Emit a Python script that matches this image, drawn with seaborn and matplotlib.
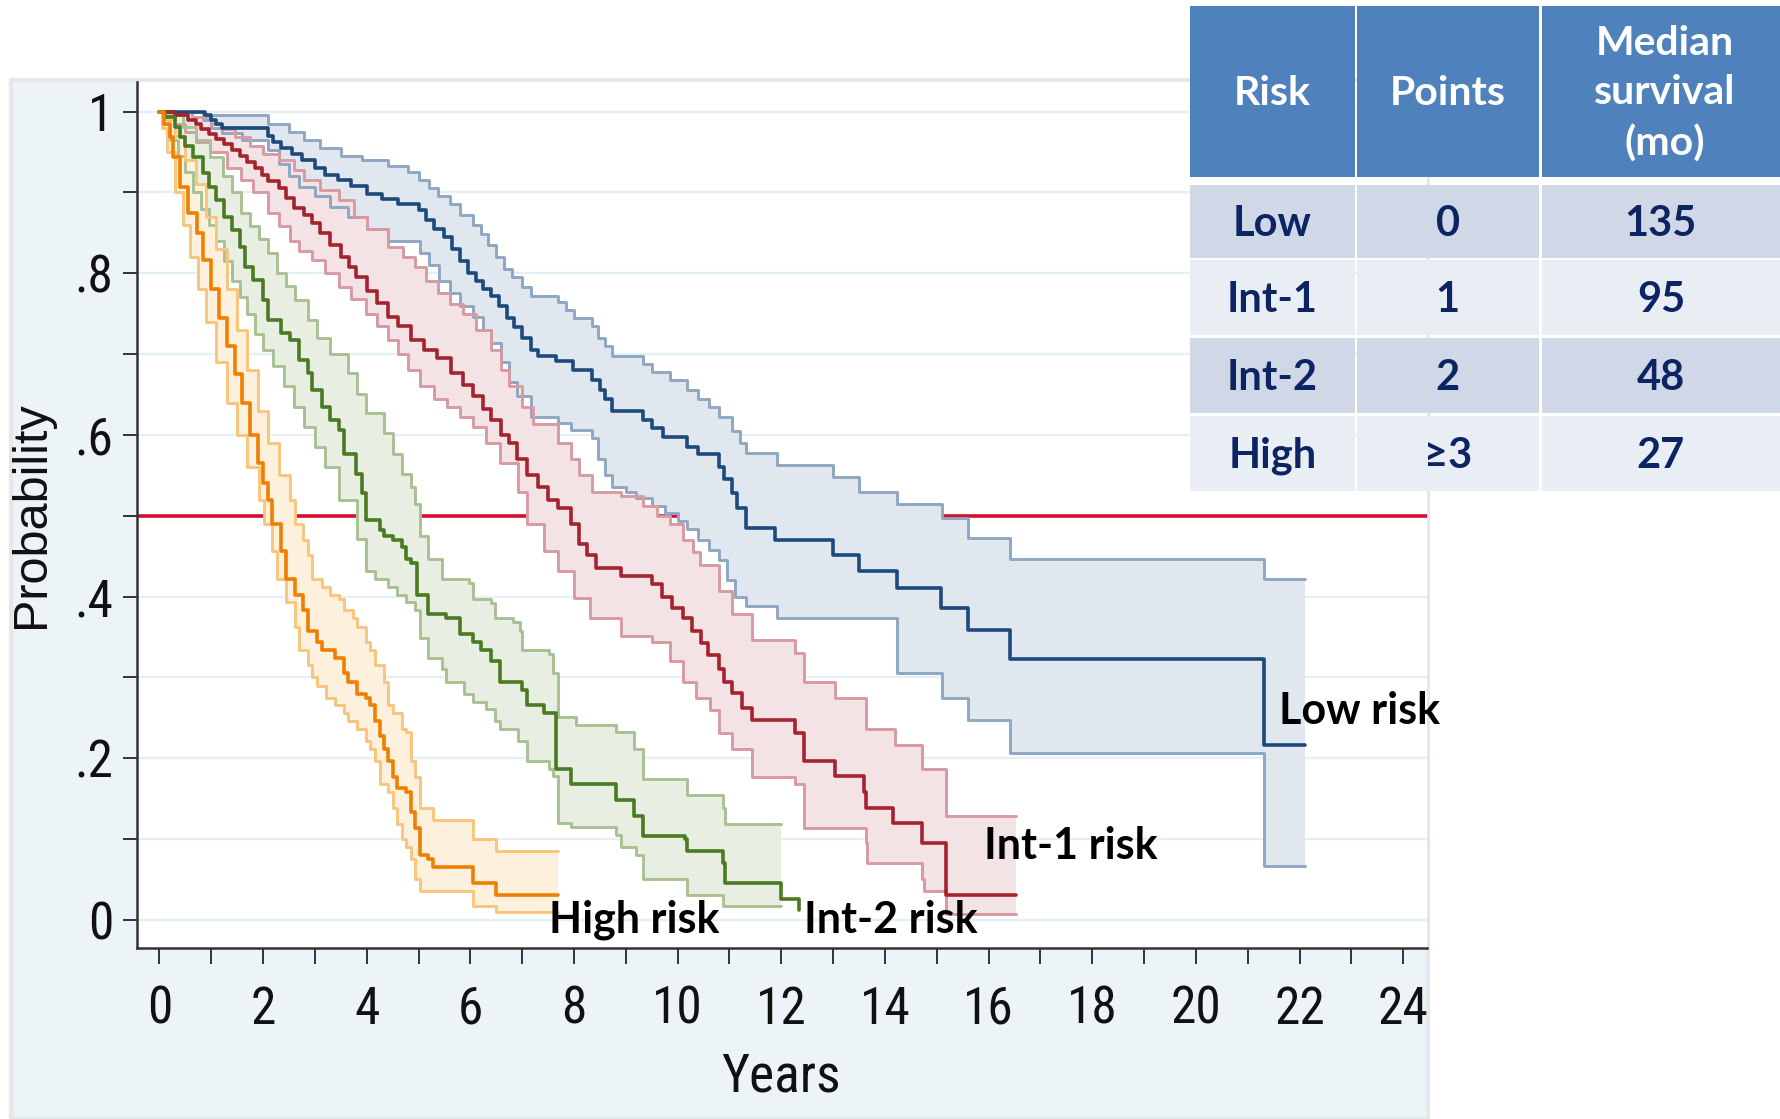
import numpy as np
import pandas as pd
import matplotlib
matplotlib.use("Agg")
import matplotlib.pyplot as plt
import seaborn as sns
from matplotlib import font_manager as fm
from matplotlib.patches import Rectangle
from matplotlib.ticker import MultipleLocator

# ---------------- data (time in years, survival probability) ----------------
low_main = [(0, 1.0), (0.88, 0.996), (1.0, 0.99), (1.1, 0.985), (1.2, 0.979), (2.1, 0.97), (2.2, 0.962),
            (2.35, 0.955), (2.55, 0.948), (2.75, 0.94), (3.0, 0.93), (3.2, 0.922), (3.45, 0.915), (3.7, 0.908),
            (4.0, 0.898), (4.3, 0.892), (4.6, 0.886), (5.0, 0.878), (5.15, 0.866), (5.3, 0.855), (5.5, 0.845),
            (5.65, 0.83), (5.8, 0.815), (5.95, 0.8), (6.1, 0.79), (6.25, 0.78), (6.4, 0.772), (6.55, 0.76),
            (6.7, 0.745), (6.85, 0.733), (7.0, 0.72), (7.17, 0.705), (7.3, 0.697), (7.65, 0.691), (7.99, 0.68),
            (8.34, 0.668), (8.5, 0.655), (8.6, 0.645), (8.73, 0.63), (9.33, 0.619), (9.5, 0.608), (9.71, 0.598),
            (10.19, 0.585), (10.4, 0.577), (10.79, 0.56), (10.9, 0.545), (11.05, 0.528), (11.15, 0.51),
            (11.31, 0.485), (11.87, 0.47), (12.99, 0.451), (13.5, 0.432), (14.24, 0.411), (15.08, 0.386),
            (15.6, 0.359), (16.42, 0.323), (21.32, 0.217)]
low_upper = [(0, 1.0), (0.85, 0.996), (2.1, 0.985), (2.5, 0.975), (2.8, 0.965), (3.1, 0.955), (3.5, 0.945),
             (3.9, 0.94), (4.42, 0.932), (4.8, 0.925), (5.0, 0.915), (5.2, 0.905), (5.37, 0.895), (5.6, 0.885),
             (5.8, 0.872), (6.06, 0.86), (6.2, 0.848), (6.35, 0.835), (6.5, 0.82), (6.65, 0.805), (6.8, 0.795),
             (7.0, 0.783), (7.17, 0.772), (7.69, 0.764), (7.85, 0.754), (8.0, 0.745), (8.34, 0.735), (8.47, 0.72),
             (8.6, 0.71), (8.73, 0.698), (9.33, 0.688), (9.5, 0.678), (9.85, 0.668), (10.19, 0.655), (10.4, 0.645),
             (10.6, 0.635), (10.79, 0.622), (11.05, 0.605), (11.2, 0.59), (11.31, 0.578), (11.91, 0.563),
             (12.99, 0.548), (13.5, 0.53), (14.24, 0.514), (15.1, 0.497), (15.6, 0.472), (16.42, 0.4465),
             (21.32, 0.422)]
low_lower = [(0, 1.0), (0.85, 0.99), (1.0, 0.98), (1.2, 0.973), (1.6, 0.965), (2.1, 0.952), (2.3, 0.935),
             (2.5, 0.92), (2.7, 0.907), (3.0, 0.895), (3.3, 0.882), (3.64, 0.87), (4.0, 0.855), (4.42, 0.84),
             (5.02, 0.825), (5.2, 0.81), (5.4, 0.79), (5.6, 0.775), (5.8, 0.76), (6.06, 0.746), (6.25, 0.73),
             (6.4, 0.714), (6.6, 0.69), (6.75, 0.665), (6.9, 0.648), (7.17, 0.622), (7.69, 0.615), (7.94, 0.606),
             (8.34, 0.596), (8.47, 0.57), (8.6, 0.55), (8.73, 0.536), (9.0, 0.53), (9.2, 0.522), (9.5, 0.512),
             (9.75, 0.503), (10.0, 0.493), (10.19, 0.484), (10.4, 0.47), (10.6, 0.458), (10.79, 0.445),
             (10.95, 0.42), (11.1, 0.4), (11.31, 0.388), (11.91, 0.373), (14.24, 0.305), (15.1, 0.275),
             (15.6, 0.248), (16.42, 0.207), (21.32, 0.067)]
low_end = 22.1

int1_main = [(0, 1.0), (0.3, 0.996), (0.55, 0.99), (0.7, 0.984), (0.8, 0.978), (0.95, 0.972), (1.1, 0.966),
             (1.25, 0.96), (1.4, 0.953), (1.55, 0.945), (1.7, 0.938), (1.85, 0.93), (1.98, 0.922), (2.1, 0.914),
             (2.3, 0.905), (2.45, 0.893), (2.6, 0.881), (2.8, 0.872), (2.95, 0.862), (3.1, 0.85), (3.3, 0.835),
             (3.5, 0.82), (3.65, 0.808), (3.8, 0.795), (4.0, 0.778), (4.2, 0.763), (4.42, 0.746), (4.6, 0.735),
             (4.85, 0.718), (5.1, 0.705), (5.35, 0.695), (5.62, 0.676), (5.85, 0.662), (6.06, 0.648),
             (6.25, 0.632), (6.4, 0.619), (6.6, 0.6), (6.74, 0.59), (6.9, 0.57), (7.09, 0.55), (7.3, 0.535),
             (7.5, 0.52), (7.7, 0.51), (7.94, 0.49), (8.1, 0.465), (8.25, 0.452), (8.42, 0.436), (8.9, 0.426),
             (9.5, 0.415), (9.7, 0.4), (9.89, 0.386), (10.1, 0.373), (10.27, 0.358), (10.45, 0.343),
             (10.58, 0.328), (10.79, 0.31), (10.9, 0.295), (11.05, 0.281), (11.25, 0.262), (11.44, 0.248),
             (12.26, 0.231), (12.43, 0.197), (13.03, 0.178), (13.59, 0.158), (13.63, 0.139), (14.15, 0.12),
             (14.71, 0.095), (15.18, 0.031)]
int1_upper = [(0, 1.0), (0.63, 0.993), (1.0, 0.985), (1.2, 0.978), (1.45, 0.968), (1.74, 0.957), (2.0, 0.948),
              (2.3, 0.94), (2.6, 0.928), (2.8, 0.915), (3.1, 0.903), (3.47, 0.89), (3.75, 0.87), (4.0, 0.855),
              (4.42, 0.833), (4.7, 0.82), (4.94, 0.808), (5.15, 0.79), (5.37, 0.775), (5.6, 0.762), (5.85, 0.75),
              (6.1, 0.73), (6.4, 0.705), (6.6, 0.68), (6.75, 0.66), (7.0, 0.634), (7.2, 0.614), (7.7, 0.59),
              (7.94, 0.57), (8.1, 0.55), (8.34, 0.53), (8.9, 0.524), (9.33, 0.512), (9.6, 0.5), (9.85, 0.49),
              (10.1, 0.47), (10.3, 0.455), (10.44, 0.439), (10.79, 0.407), (11.05, 0.378), (11.44, 0.346),
              (12.26, 0.33), (12.43, 0.295), (13.03, 0.275), (13.63, 0.236), (14.2, 0.216), (14.71, 0.187),
              (15.18, 0.129)]
int1_lower = [(0, 1.0), (0.3, 0.985), (0.5, 0.975), (0.7, 0.962), (0.97, 0.95), (1.3, 0.93), (1.58, 0.915),
              (1.8, 0.9), (2.09, 0.875), (2.3, 0.858), (2.52, 0.84), (2.7, 0.828), (2.95, 0.816), (3.2, 0.8),
              (3.47, 0.783), (3.7, 0.768), (3.99, 0.75), (4.2, 0.735), (4.42, 0.718), (4.6, 0.7), (4.8, 0.68),
              (5.02, 0.66), (5.3, 0.645), (5.55, 0.635), (5.8, 0.622), (6.06, 0.61), (6.3, 0.59), (6.57, 0.565),
              (6.92, 0.53), (7.09, 0.49), (7.43, 0.456), (7.69, 0.432), (8.0, 0.398), (8.3, 0.373), (8.9, 0.351),
              (9.5, 0.344), (9.85, 0.32), (10.1, 0.295), (10.36, 0.275), (10.62, 0.26), (10.79, 0.231),
              (11.05, 0.212), (11.44, 0.177), (12.26, 0.168), (12.43, 0.114), (13.63, 0.095), (13.65, 0.07),
              (14.71, 0.051), (14.75, 0.036), (15.18, 0.007)]
int1_end = 16.52

int2_main = [(0, 1.0), (0.1, 0.993), (0.3, 0.981), (0.4, 0.969), (0.5, 0.957), (0.65, 0.944), (0.85, 0.924),
             (0.95, 0.907), (1.1, 0.891), (1.25, 0.87), (1.4, 0.853), (1.55, 0.833), (1.66, 0.808), (1.8, 0.792),
             (2.0, 0.767), (2.09, 0.742), (2.35, 0.726), (2.52, 0.718), (2.7, 0.693), (2.87, 0.676), (2.95, 0.656),
             (3.13, 0.635), (3.3, 0.619), (3.47, 0.606), (3.56, 0.577), (3.8, 0.552), (3.9, 0.528), (3.99, 0.495),
             (4.25, 0.483), (4.33, 0.475), (4.5, 0.47), (4.68, 0.461), (4.75, 0.446), (4.85, 0.441),
             (4.98, 0.402), (5.19, 0.378), (5.54, 0.373), (5.8, 0.354), (6.06, 0.344), (6.2, 0.334), (6.4, 0.32),
             (6.57, 0.295), (7.0, 0.285), (7.09, 0.266), (7.43, 0.256), (7.65, 0.187), (7.95, 0.168),
             (8.81, 0.148), (9.16, 0.129), (9.33, 0.104), (10.15, 0.1), (10.19, 0.085), (10.88, 0.07),
             (10.92, 0.046), (12.0, 0.026), (12.34, 0.012)]
int2_upper = [(0, 1.0), (0.15, 0.996), (0.45, 0.981), (0.71, 0.965), (0.97, 0.944), (1.23, 0.92), (1.4, 0.9),
              (1.58, 0.875), (1.75, 0.858), (1.92, 0.842), (2.09, 0.825), (2.27, 0.8), (2.44, 0.784),
              (2.61, 0.767), (2.87, 0.742), (3.04, 0.72), (3.3, 0.7), (3.64, 0.676), (3.82, 0.651), (3.99, 0.627),
              (4.33, 0.602), (4.5, 0.577), (4.68, 0.552), (4.85, 0.535), (4.93, 0.515), (5.02, 0.475),
              (5.19, 0.446), (5.45, 0.422), (5.97, 0.417), (6.06, 0.397), (6.4, 0.392), (6.48, 0.373),
              (6.83, 0.368), (6.96, 0.358), (7.0, 0.334), (7.52, 0.329), (7.6, 0.305), (7.69, 0.251),
              (8.04, 0.241), (8.81, 0.232), (9.16, 0.212), (9.33, 0.175), (10.19, 0.155), (10.88, 0.138),
              (10.92, 0.119)]
int2_lower = [(0, 1.0), (0.05, 0.985), (0.2, 0.965), (0.35, 0.945), (0.5, 0.925), (0.65, 0.9), (0.8, 0.88),
              (0.95, 0.86), (1.1, 0.84), (1.25, 0.815), (1.4, 0.79), (1.55, 0.77), (1.7, 0.75), (1.85, 0.725),
              (2.0, 0.705), (2.2, 0.685), (2.4, 0.66), (2.6, 0.635), (2.8, 0.61), (3.0, 0.585), (3.2, 0.56),
              (3.47, 0.519), (3.82, 0.471), (3.99, 0.432), (4.16, 0.422), (4.42, 0.412), (4.59, 0.402),
              (4.76, 0.393), (4.93, 0.383), (5.02, 0.349), (5.19, 0.324), (5.45, 0.31), (5.54, 0.295),
              (5.88, 0.28), (6.06, 0.27), (6.31, 0.261), (6.48, 0.246), (6.57, 0.236), (6.92, 0.222),
              (7.09, 0.197), (7.52, 0.187), (7.6, 0.178), (7.69, 0.12), (7.95, 0.115), (8.81, 0.105),
              (8.9, 0.09), (9.2, 0.08), (9.33, 0.051), (10.19, 0.031), (10.88, 0.017)]
int2_end = 12.34
int2_ci_end = 12.0

high_main = [(0, 1.0), (0.08, 0.985), (0.2, 0.969), (0.27, 0.944), (0.4, 0.907), (0.56, 0.874), (0.72, 0.85),
             (0.84, 0.816), (1.0, 0.78), (1.15, 0.745), (1.3, 0.71), (1.45, 0.675), (1.6, 0.64), (1.75, 0.6),
             (1.9, 0.565), (2.0, 0.54), (2.09, 0.519), (2.18, 0.49), (2.35, 0.456), (2.44, 0.422), (2.61, 0.402),
             (2.78, 0.383), (2.87, 0.358), (3.04, 0.344), (3.13, 0.334), (3.39, 0.324), (3.56, 0.305),
             (3.64, 0.295), (3.82, 0.28), (3.99, 0.275), (4.07, 0.266), (4.16, 0.246), (4.25, 0.227),
             (4.33, 0.212), (4.42, 0.197), (4.5, 0.177), (4.59, 0.163), (4.76, 0.158), (4.85, 0.134),
             (4.93, 0.114), (5.02, 0.08), (5.19, 0.075), (5.28, 0.066), (6.06, 0.046), (6.49, 0.031)]
high_upper = [(0, 1.0), (0.15, 0.99), (0.3, 0.97), (0.5, 0.94), (0.7, 0.91), (0.9, 0.87), (1.1, 0.83),
              (1.3, 0.78), (1.5, 0.73), (1.7, 0.68), (1.9, 0.63), (2.1, 0.59), (2.3, 0.55), (2.52, 0.519),
              (2.61, 0.49), (2.78, 0.47), (2.87, 0.451), (2.95, 0.422), (3.13, 0.412), (3.3, 0.402),
              (3.47, 0.397), (3.56, 0.383), (3.73, 0.373), (3.82, 0.363), (3.99, 0.344), (4.07, 0.334),
              (4.16, 0.315), (4.33, 0.295), (4.42, 0.266), (4.5, 0.256), (4.68, 0.236), (4.76, 0.232),
              (4.85, 0.197), (4.93, 0.177), (5.02, 0.139), (5.28, 0.124), (6.06, 0.1), (6.49, 0.085)]
high_lower = [(0, 1.0), (0.05, 0.98), (0.15, 0.95), (0.3, 0.9), (0.45, 0.86), (0.6, 0.82), (0.75, 0.78),
              (0.9, 0.74), (1.1, 0.69), (1.3, 0.64), (1.5, 0.6), (1.7, 0.56), (1.92, 0.519), (2.01, 0.49),
              (2.18, 0.456), (2.27, 0.422), (2.44, 0.393), (2.61, 0.363), (2.7, 0.334), (2.87, 0.315),
              (2.95, 0.3), (3.04, 0.29), (3.21, 0.275), (3.39, 0.266), (3.56, 0.256), (3.64, 0.246),
              (3.82, 0.236), (3.99, 0.222), (4.07, 0.212), (4.16, 0.197), (4.25, 0.168), (4.42, 0.158),
              (4.5, 0.139), (4.59, 0.119), (4.68, 0.1), (4.76, 0.09), (4.85, 0.075), (4.93, 0.051),
              (5.02, 0.036), (6.06, 0.017), (6.49, 0.01)]
high_end = 7.69

reference_level = 0.5
group_labels = ["High risk", "Int-2 risk", "Int-1 risk", "Low risk"]
label_anchor = [(7.52, 0.0), (12.43, 0.0), (15.91, 0.091), (21.6, 0.2585)]

x_ticks = list(range(0, 25, 2))
y_ticks = [0, 0.2, 0.4, 0.6, 0.8, 1.0]
y_tick_labels = ["0", ".2", ".4", ".6", ".8", "1"]

table_header = ["Risk", "Points", "Median\nsurvival\n(mo)"]
table_risk = ["Low", "Int-1", "Int-2", "High"]
table_points = ["0", "1", "2", "\u22653"]
table_median = ["135", "95", "48", "27"]

# ---------------- style ----------------
W, H, DPI = 1780, 1119, 100
sns.set_theme(style="white")

available = {f.name for f in fm.fontManager.ttflist}
narrow_name = next((n for n in ["Liberation Sans Narrow", "Arial Narrow", "Roboto Condensed",
                                "Open Sans Condensed", "DejaVu Sans Condensed"] if n in available), None)
if narrow_name is not None:
    NARROW = [narrow_name, "Liberation Sans", "DejaVu Sans"]
    tick_size, xlab_size = 37, 38.5
else:
    NARROW = ["Liberation Sans", "DejaVu Sans"]
    tick_size, xlab_size = 35, 35
BOLD = ["Lato", "Open Sans", "DejaVu Sans"]
plt.rcParams["font.family"] = NARROW

groups = [
    # main, upper, lower, end, ci_end, main colour, ci colour, fill colour
    (low_main, low_upper, low_lower, low_end, low_end, "#1c4a7c", "#8ea7c2", "#e1e7ef"),
    (int1_main, int1_upper, int1_lower, int1_end, int1_end, "#a5222f", "#d89aa2", "#f4e3e5"),
    (int2_main, int2_upper, int2_lower, int2_end, int2_ci_end, "#4a7b22", "#a8c193", "#e8efe2"),
    (high_main, high_upper, high_lower, high_end, high_end, "#ef7f00", "#f8c57c", "#fdf0dc"),
]


def step_eval(pairs, grid):
    t = np.array([p[0] for p in pairs])
    s = np.array([p[1] for p in pairs])
    idx = np.searchsorted(t, grid, side="right") - 1
    return s[np.clip(idx, 0, len(s) - 1)]


def step_frame(pairs, end):
    t = [p[0] for p in pairs] + [end]
    s = [p[1] for p in pairs] + [pairs[-1][1]]
    return pd.DataFrame({"t": t, "s": s})


fig = plt.figure(figsize=(W / DPI, H / DPI), dpi=DPI, facecolor="white")

# graph region (light bluish)
fig.add_artist(Rectangle((11 / W, 0), (1428 - 11) / W, (H - 80) / H, transform=fig.transFigure,
                         facecolor="#edf4f7", edgecolor="#e4e8ea", lw=3, zorder=-10))

ax = fig.add_axes([137 / W, (H - 948) / H, (1427 - 137) / W, (948 - 82) / H])
ax.set_facecolor("white")

ax.axhline(reference_level, color="#d3112e", lw=2.6, zorder=1)

for main, up, lo, end, ci_end, c_main, c_ci, c_fill in groups:
    grid = np.unique(np.concatenate([[p[0] for p in up], [p[0] for p in lo], [ci_end]]))
    grid = grid[grid <= ci_end]
    ax.fill_between(grid, step_eval(lo, grid), step_eval(up, grid), step="post",
                    color=c_fill, lw=0, zorder=2)
    for band in (up, lo):
        sns.lineplot(data=step_frame(band, ci_end), x="t", y="s", drawstyle="steps-post",
                     estimator=None, sort=False, color=c_ci, linewidth=2.1, ax=ax, zorder=3)
for main, up, lo, end, ci_end, c_main, c_ci, c_fill in groups:
    sns.lineplot(data=step_frame(main, end), x="t", y="s", drawstyle="steps-post",
                 estimator=None, sort=False, color=c_main, linewidth=2.6, ax=ax, zorder=4)

for lab, (tx, ty) in zip(group_labels, label_anchor):
    ax.text(tx, ty, lab, ha="left", va="center", fontsize=31, fontweight="bold",
            family=BOLD, color="black", zorder=6)

ax.set_xlim(-0.432, 24.46)
ax.set_ylim(-0.0346, 1.0365)
ax.set_xticks(x_ticks)
ax.set_xticklabels([str(v) for v in x_ticks])
ax.set_yticks(y_ticks)
ax.set_yticklabels(y_tick_labels)
ax.xaxis.set_minor_locator(MultipleLocator(1))
ax.yaxis.set_minor_locator(MultipleLocator(0.1))
ax.set_axisbelow(True)
ax.yaxis.grid(True, which="both", color="#e3f0f5", lw=1.6, zorder=0)
ax.xaxis.grid(False)

ax.tick_params(axis="x", which="both", direction="out", length=11.5, width=1.4, color="#333333",
               labelsize=tick_size, pad=15, labelcolor="#111111", bottom=True)
ax.tick_params(axis="y", which="both", direction="out", length=10, width=1.4, color="#333333",
               labelsize=tick_size, pad=7, labelcolor="#111111", left=True)

for side in ("top", "right"):
    ax.spines[side].set_visible(False)
for side in ("left", "bottom"):
    ax.spines[side].set_color("#333333")
    ax.spines[side].set_linewidth(1.8)

ax.set_xlabel("Years", fontsize=xlab_size, color="#111111")
ax.xaxis.label.set_verticalalignment("center")
ax.xaxis.set_label_coords(0.4995, -(1077 - 948) / 866)
ax.set_ylabel("Probability", fontsize=35, color="#111111", family=["Liberation Sans", "DejaVu Sans"])
ax.yaxis.label.set_verticalalignment("center")
ax.yaxis.set_label_coords(-(137 - 32) / 1290, 0.5)

# ---------------- summary table (overlay) ----------------
tab = fig.add_axes([0, 0, 1, 1], zorder=10)
tab.set_xlim(0, W)
tab.set_ylim(H, 0)
tab.set_facecolor("none")
tab.axis("off")

col_edges = [(1190, 1355), (1357, 1538.5), (1541.7, 1780)]
header_span = (6, 177)
row_spans = [(185, 258), (260, 335), (338, 413), (416, 491)]
row_colors = ["#d0d8e8", "#e9edf4", "#d0d8e8", "#e9edf4"]
NAVY = "#0d2463"

for (x0, x1), txt in zip(col_edges, table_header):
    tab.add_patch(Rectangle((x0, header_span[0]), x1 - x0, header_span[1] - header_span[0],
                            facecolor="#4f81bd", edgecolor="none"))
    cx = (x0 + x1) / 2 + (4 if x1 >= W else 0)
    tab.text(cx, (header_span[0] + header_span[1]) / 2 + 2, txt, ha="center", va="center",
             fontsize=29.5, fontweight="bold", color="white", family=BOLD, linespacing=1.42)

for r, ((y0, y1), rc) in enumerate(zip(row_spans, row_colors)):
    cells = [table_risk[r], table_points[r], table_median[r]]
    for (x0, x1), txt in zip(col_edges, cells):
        tab.add_patch(Rectangle((x0, y0), x1 - x0, y1 - y0, facecolor=rc, edgecolor="none"))
        tab.text((x0 + x1) / 2, (y0 + y1) / 2 + 2, txt, ha="center", va="center",
                 fontsize=30, fontweight="bold", color=NAVY, family=BOLD)

fig.savefig("out.png", dpi=DPI, facecolor="white")
